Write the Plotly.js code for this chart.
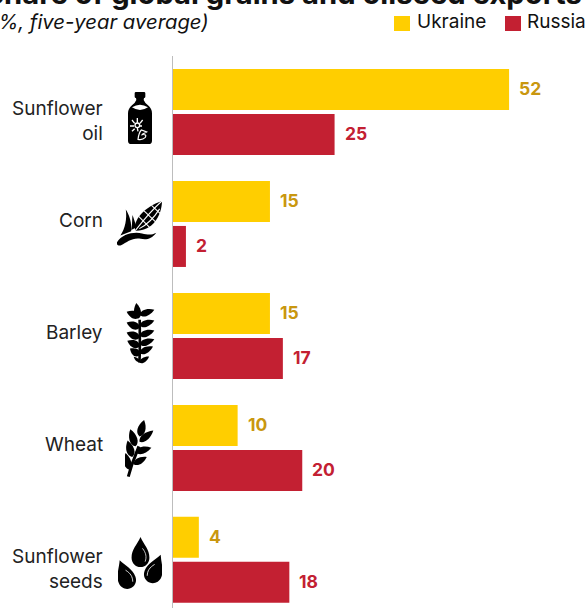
<!DOCTYPE html>
<html><head><meta charset="utf-8">
<script src="https://cdn.plot.ly/plotly-3.0.1.min.js"></script>
<style>html,body{margin:0;padding:0;background:#fff;overflow:hidden}</style>
</head><body><div id="chart" style="width:586px;height:608px"></div>
<script>
const categories = ['Sunflower<br>oil','Corn','Barley','Wheat','Sunflower<br>seeds'];
const ukraine = [52,15,15,10,4];
const russia = [25,2,17,20,18];
const seriesNames = ['Ukraine','Russia'];
const barColors = ['#FFCE00','#C32032'];
const labelColors = ['#C9970F','#C32032'];
const titleText = 'Share of global grains and oilseed exports';
const subtitleText = '(%, five-year average)';
const FONT = 'Inter, "Open Sans", sans-serif';
const W=586,H=608,L=173,T=56,PW=W-L,PH=H-T;
const px=x=>(x-L)/PW, py=y=>1-(y-T)/PH;

function leaf(x0,y0,x1,y1,w){
  const len=Math.hypot(x1-x0,y1-y0), ang=Math.atan2(y1-y0,x1-x0)*180/Math.PI;
  return `<path transform="translate(${x0} ${y0}) rotate(${ang})" d="M0 0C${len*.15} ${-w} ${len*.6} ${-w} ${len} 0C${len*.6} ${w} ${len*.15} ${w} 0 0Z"/>`;
}
const svg=(vb,body)=>'data:image/svg+xml;utf8,'+encodeURIComponent(`<svg xmlns="http://www.w3.org/2000/svg" viewBox="${vb}">${body}</svg>`);

const bottle=svg('0 0 72 156',`<path d="M24 0H48Q52 0 52 4V14Q52 18 48 18L47 24Q50 32 60 40Q72 50 72 64V146Q72 156 62 156H10Q0 156 0 146V64Q0 50 12 40Q22 32 25 24L24 18Q20 18 20 14V4Q20 0 24 0Z"/>
<path d="M12 46Q24 38 36 38Q48 38 60 46Q36 62 12 46Z" fill="#fff"/>
<g stroke="#fff" stroke-width="4" fill="none"><circle cx="28" cy="100" r="7"/><path d="M28 92V78M20 94L12 84M18 102H6M20 110L12 118M36 94L44 84M36 102H42M28 108L30 118"/><path d="M30 142C32 126 36 118 40 114L56 120C50 124 44 124 42 128C52 126 56 130 52 136C46 142 38 144 30 142Z" stroke-width="3.5"/></g>`);
const corn=svg('0 0 133 135',`<path d="M0 124C14 100 50 92 74 98C90 102 102 104 116 96C102 114 88 118 70 114C45 110 30 124 12 133C4 136 -3 131 0 124Z"/>
<path d="M10 104C24 85 30 55 26 28C37 45 44 68 42 92Z"/><path d="M42 88C46 70 44 55 46 44L58 80Z"/>
<path d="M54 90C46 60 80 20 133 3C132 50 102 92 54 90Z"/><g stroke="#fff" stroke-width="3.2" fill="none"><path d="M54 90C76 62 102 30 133 3M64 48L100 84M80 32L118 68M102 16L128 40M66 84C90 72 112 48 126 26"/></g>`);
let barleyBody='<path d="M43 178C45 150 45 120 44 50" stroke="#000" stroke-width="8" fill="none"/>';
barleyBody+=leaf(40,46,34,0,14);
[[44,36,5,26,88,20],[44,68,5,58,88,52],[44,98,5,88,88,82],[44,124,7,113,88,108],[44,150,15,136,84,130]].forEach(([bx,by,lx,ly,rx,ry])=>{
  barleyBody+=leaf(bx,by+6,lx,ly,15)+leaf(bx,by,rx,ry,13);});
barleyBody+=leaf(44,176,26,160,6)+leaf(44,178,72,160,9);
const barley=svg('0 0 90 182',barleyBody);
let wheatBody='<path d="M10 172L20 138L42 80" stroke="#000" stroke-width="9" fill="none"/>';
wheatBody+=leaf(44,50,58,0,16)+leaf(44,66,86,32,14)+leaf(32,80,16,28,16)+leaf(32,98,80,84,14)+leaf(22,112,8,62,16)+leaf(26,134,66,112,13)+leaf(12,150,2,100,15);
const wheat=svg('0 0 88 176',wheatBody);
const drop=(x,y,r,hl)=>`<g transform="translate(${x} ${y}) rotate(${r})"><path d="M0 0C10 22 27 38 27 62C27 79 14 90 0 90C-14 90 -27 79 -27 62C-27 38 -10 22 0 0Z"/><path d="M${hl*6} 34C${hl*17} 48 ${hl*19} 60 ${hl*14} 74" stroke="#fff" stroke-width="2.2" fill="none"/></g>`;
const seeds=svg('0 0 133 156',drop(68,0,0,1)+drop(5,70,-21,1)+drop(129,53,22,-1));

const icons=[[bottle,128,92,24,52],[corn,117,200,45,46],[barley,125,303,30,61],[wheat,125,420,29,58],[seeds,118,537,44,52]];

const traces=[ukraine,russia].map((v,i)=>({type:'bar',orientation:'h',name:seriesNames[i],x:v,y:categories,
  marker:{color:barColors[i],line:{width:0}},hoverinfo:'x+name',showlegend:false}));

const anns=[];
[ukraine,russia].forEach((v,s)=>v.forEach((val,i)=>anns.push({x:val,y:categories[i],xref:'x',yref:'y',text:'<b>'+val+'</b>',showarrow:false,
  xanchor:'left',xshift:8,yshift:s===0?23:-22,font:{family:FONT,size:17.5,color:labelColors[s]}})));
categories.forEach(c=>anns.push({x:px(105),xref:'paper',y:c,yref:'y',text:c,showarrow:false,xanchor:'right',align:'right',yshift:c.includes('<br>')?-9:3,font:{family:FONT,size:19,color:'#222'}}));
const txt=(t,x,y,anchor,size,extra)=>({xref:'paper',yref:'paper',x:px(x),y:py(y),text:t,showarrow:false,xanchor:anchor,yanchor:'middle',font:Object.assign({family:FONT,size:size,color:'#111'},extra||{})});
anns.push(txt('<b>'+titleText+'</b>',-17,-7,'left',29.2));
anns.push(txt('<i>'+subtitleText+'</i>',211,22,'right',20.3));
anns.push(txt(seriesNames[0],415,22,'left',19));
anns.push(txt(seriesNames[1],525,22,'left',19));

const shapes=[[394,barColors[0]],[505,barColors[1]]].map(([x,c])=>({type:'rect',xref:'paper',yref:'paper',x0:px(x),x1:px(x+16),y0:py(31),y1:py(16),fillcolor:c,line:{width:0}}));

const layout={width:W,height:H,margin:{l:L,r:0,t:T,b:0,pad:0},paper_bgcolor:'#fff',plot_bgcolor:'#fff',showlegend:false,
  barmode:'group',bargap:0.196,bargroupgap:0.089,
  xaxis:{range:[0,63.9],visible:false,fixedrange:true},
  yaxis:{type:'category',categoryorder:'array',categoryarray:categories,range:[4.43,-0.5],showgrid:false,zeroline:false,showline:true,linecolor:'#BDBDBD',linewidth:1,ticks:'',showticklabels:false,automargin:false},
  annotations:anns,shapes:shapes,
  images:icons.map(([s,x,y,w,h])=>({source:s,xref:'paper',yref:'paper',x:px(x),y:py(y),sizex:w/PW,sizey:h/PH,xanchor:'left',yanchor:'top',sizing:'stretch',layer:'above'}))};
Plotly.newPlot('chart',traces,layout,{displayModeBar:false,staticPlot:true});
</script></body></html>
